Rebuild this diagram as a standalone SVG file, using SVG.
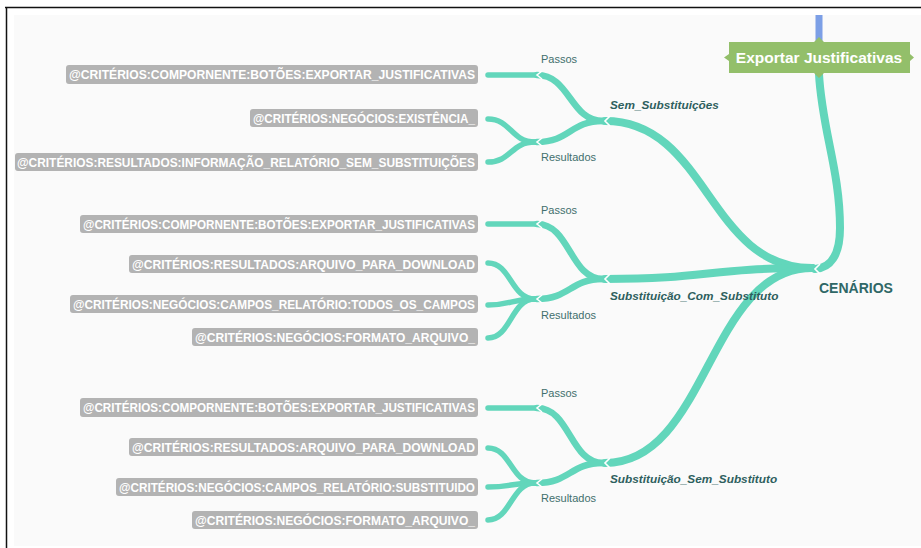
<svg xmlns="http://www.w3.org/2000/svg" width="921" height="548" viewBox="0 0 921 548">
  <style>
    .frame { stroke: #111; stroke-width: 1.5; fill: none; }
    .br { fill: none; stroke: #62d6bb; stroke-linecap: round; }
    .b1 { stroke-width: 8; }
    .b2 { stroke-width: 6.5; }
    .b3 { stroke-width: 5.5; }
    .notch { fill: none; stroke: #ffffff; stroke-width: 1.6; stroke-linejoin: miter; }
    .leafbox { fill: #b3b3b3; }
    .leaf { font-family: "Liberation Sans", Arial, sans-serif; font-weight: bold; font-size: 12px; fill: #ffffff; text-anchor: end; }
    .sub { font-family: "Liberation Sans", Arial, sans-serif; font-size: 11px; fill: #3f6f6d; }
    .scn { font-family: "Liberation Sans", Arial, sans-serif; font-size: 11.8px; font-weight: bold; font-style: italic; fill: #2e5f5e; }
    .root { font-family: "Liberation Sans", Arial, sans-serif; font-size: 14px; font-weight: bold; fill: #2f6766; }
    .top { font-family: "Liberation Sans", Arial, sans-serif; font-size: 15.5px; font-weight: bold; fill: #ffffff; text-anchor: middle; }
  </style>

  <!-- canvas -->
  <rect x="0" y="0" width="921" height="548" fill="#ffffff"/>
  <rect x="14" y="15" width="907" height="531" fill="#fafafa"/>
  <path class="frame" d="M5 7.5 H921 M6.5 7 V548"/>

  <!-- connectors -->
  <g id="connectors">
    <!-- link from the feature node -->
    <path d="M819 15 V42" stroke="#7c9fe6" stroke-width="7" fill="none"/>
    <path class="br b1" d="M819 74 C822 130 840 170 840 228 C840 256 830 268 815 269"/>

    <!-- scenarios -->
    <path class="br b1" d="M812 268 C708 268 708 121 605 121"/>
    <path class="br b1" d="M812 268 C708 268 708 279 605 279"/>
    <path class="br b1" d="M812 268 C708 268 708 463 605 463"/>

    <!-- Sem_Substituições -->
    <path class="br b2" d="M603 121 C570 121 570 75 537 75"/>
    <path class="br b2" d="M603 121 C570 121 570 142 537 142"/>
    <path class="br b3" d="M535 75 H488"/>
    <path class="br b3" d="M535 142 C511 142 511 119 488 119"/>
    <path class="br b3" d="M535 142 C511 142 511 162 488 162"/>

    <!-- Substituição_Com_Substituto -->
    <path class="br b2" d="M603 279 C570 279 570 224 537 224"/>
    <path class="br b2" d="M603 279 C570 279 570 299 537 299"/>
    <path class="br b3" d="M535 224 H488"/>
    <path class="br b3" d="M535 299 C511 299 511 263 488 263"/>
    <path class="br b3" d="M535 299 C511 299 511 305 488 305"/>
    <path class="br b3" d="M535 299 C511 299 511 338 488 338"/>

    <!-- Substituição_Sem_Substituto -->
    <path class="br b2" d="M603 463 C570 463 570 408 537 408"/>
    <path class="br b2" d="M603 463 C570 463 570 483 537 483"/>
    <path class="br b3" d="M535 408 H488"/>
    <path class="br b3" d="M535 483 C511 483 511 448 488 448"/>
    <path class="br b3" d="M535 483 C511 483 511 487 488 487"/>
    <path class="br b3" d="M535 483 C511 483 511 520 488 520"/>

    <!-- joint notches -->
    <path class="notch" d="M820 264 L815 269 L820 274"/>
    <path class="notch" d="M610 116 L605 121 L610 126"/>
    <path class="notch" d="M610 274 L605 279 L610 284"/>
    <path class="notch" d="M610 458 L605 463 L610 468"/>
    <path class="notch" d="M542 71 L537 75 L542 79"/>
    <path class="notch" d="M542 138 L537 142 L542 146"/>
    <path class="notch" d="M542 220 L537 224 L542 228"/>
    <path class="notch" d="M542 295 L537 299 L542 303"/>
    <path class="notch" d="M542 404 L537 408 L542 412"/>
    <path class="notch" d="M542 479 L537 483 L542 487"/>
  </g>

  <!-- feature node -->
  <g id="feature">
    <path fill="#93bf6a" d="M729 42 H814 L819 37 L824 42 H910 V54 L914 57.5 L910 61 V73 H824 L819 78 L814 73 H729 V61 L724 57.5 L729 54 Z"/>
    <text class="top" x="819" y="63">Exportar Justificativas</text>
  </g>

  <g id="cenarios">
    <text class="root" x="819" y="293">CENÁRIOS</text>
  </g>

  <!-- scenario nodes -->
  <g id="sem-substituicoes"><text class="scn" x="610" y="109">Sem_Substituições</text></g>
  <g id="com-substituto"><text class="scn" x="610" y="300">Substituição_Com_Substituto</text></g>
  <g id="sem-substituto"><text class="scn" x="610" y="483">Substituição_Sem_Substituto</text></g>

  <!-- step groups -->
  <g id="passos-1"><text class="sub" x="541" y="63">Passos</text></g>
  <g id="resultados-1"><text class="sub" x="541" y="161">Resultados</text></g>
  <g id="passos-2"><text class="sub" x="541" y="214">Passos</text></g>
  <g id="resultados-2"><text class="sub" x="541" y="319">Resultados</text></g>
  <g id="passos-3"><text class="sub" x="541" y="397">Passos</text></g>
  <g id="resultados-3"><text class="sub" x="541" y="502">Resultados</text></g>

  <!-- criteria tags -->
  <g id="leaf-1-1"><rect class="leafbox" x="66" y="65" width="412" height="19" rx="3"/><text class="leaf" x="475" y="79" textLength="406" lengthAdjust="spacingAndGlyphs">@CRITÉRIOS:COMPORNENTE:BOTÕES:EXPORTAR_JUSTIFICATIVAS</text></g>
  <g id="leaf-1-2"><rect class="leafbox" x="250" y="109" width="228" height="18" rx="3"/><text class="leaf" x="475" y="122.5" textLength="222" lengthAdjust="spacingAndGlyphs">@CRITÉRIOS:NEGÓCIOS:EXISTÊNCIA_</text></g>
  <g id="leaf-1-3"><rect class="leafbox" x="15" y="153" width="463" height="18" rx="3"/><text class="leaf" x="475" y="166.5" textLength="458" lengthAdjust="spacingAndGlyphs">@CRITÉRIOS:RESULTADOS:INFORMAÇÃO_RELATÓRIO_SEM_SUBSTITUIÇÕES</text></g>

  <g id="leaf-2-1"><rect class="leafbox" x="80" y="215" width="398" height="18" rx="3"/><text class="leaf" x="475" y="228.5" textLength="392" lengthAdjust="spacingAndGlyphs">@CRITÉRIOS:COMPORNENTE:BOTÕES:EXPORTAR_JUSTIFICATIVAS</text></g>
  <g id="leaf-2-2"><rect class="leafbox" x="129" y="255" width="349" height="18" rx="3"/><text class="leaf" x="475" y="268.5" textLength="343" lengthAdjust="spacingAndGlyphs">@CRITÉRIOS:RESULTADOS:ARQUIVO_PARA_DOWNLOAD</text></g>
  <g id="leaf-2-3"><rect class="leafbox" x="70" y="295" width="408" height="18" rx="3"/><text class="leaf" x="475" y="308.5" textLength="402" lengthAdjust="spacingAndGlyphs">@CRITÉRIOS:NEGÓCIOS:CAMPOS_RELATÓRIO:TODOS_OS_CAMPOS</text></g>
  <g id="leaf-2-4"><rect class="leafbox" x="192" y="328" width="286" height="18" rx="3"/><text class="leaf" x="475" y="341.5" textLength="280" lengthAdjust="spacingAndGlyphs">@CRITÉRIOS:NEGÓCIOS:FORMATO_ARQUIVO_</text></g>

  <g id="leaf-3-1"><rect class="leafbox" x="80" y="398" width="398" height="19" rx="3"/><text class="leaf" x="475" y="412" textLength="392" lengthAdjust="spacingAndGlyphs">@CRITÉRIOS:COMPORNENTE:BOTÕES:EXPORTAR_JUSTIFICATIVAS</text></g>
  <g id="leaf-3-2"><rect class="leafbox" x="129" y="438" width="349" height="18" rx="3"/><text class="leaf" x="475" y="451.5" textLength="343" lengthAdjust="spacingAndGlyphs">@CRITÉRIOS:RESULTADOS:ARQUIVO_PARA_DOWNLOAD</text></g>
  <g id="leaf-3-3"><rect class="leafbox" x="116" y="478" width="362" height="18" rx="3"/><text class="leaf" x="475" y="491.5" textLength="356" lengthAdjust="spacingAndGlyphs">@CRITÉRIOS:NEGÓCIOS:CAMPOS_RELATÓRIO:SUBSTITUIDO</text></g>
  <g id="leaf-3-4"><rect class="leafbox" x="192" y="511" width="286" height="18" rx="3"/><text class="leaf" x="475" y="524.5" textLength="280" lengthAdjust="spacingAndGlyphs">@CRITÉRIOS:NEGÓCIOS:FORMATO_ARQUIVO_</text></g>
</svg>
